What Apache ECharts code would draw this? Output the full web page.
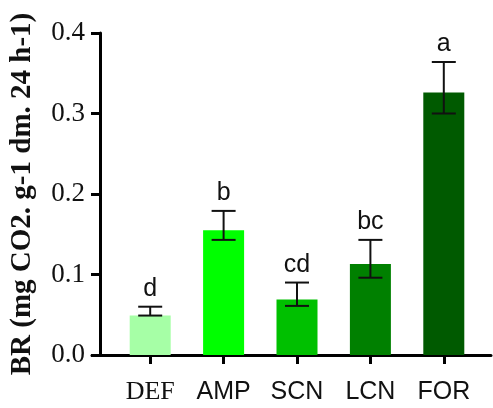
<!DOCTYPE html>
<html><head><meta charset="utf-8">
<script src="https://cdn.jsdelivr.net/npm/echarts@6/dist/echarts.min.js"></script>
<style>html,body{margin:0;padding:0;background:#fff;}#c{width:493px;height:408px;}</style>
</head><body><div id="c"></div>
<script>
const categories = ['DEF', 'AMP', 'SCN', 'LCN', 'FOR'];
const means = [0.049, 0.155, 0.069, 0.113, 0.326];
const errLow = [0.049, 0.143, 0.061, 0.096, 0.300];
const errHigh = [0.060, 0.179, 0.090, 0.143, 0.364];
const letters = ['d', 'b', 'cd', 'bc', 'a'];
const barColors = ['#a6ffa6', '#00ff00', '#00c000', '#008000', '#005a00'];
const yTicks = [0, 0.1, 0.2, 0.3, 0.4];

const chart = echarts.init(document.getElementById('c'));
const errData = categories.map((c, i) => [i, errLow[i], errHigh[i], letters[i]]);

chart.setOption({
  animation: false,
  grid: [
    {left: 105.5, width: 375, top: 33, bottom: 53},
    {left: 92, width: 399, top: 33, bottom: 53}
  ],
  xAxis: [
    {
      type: 'category', gridIndex: 0, data: categories,
      axisLine: {show: false},
      axisTick: {show: true, alignWithLabel: true, length: 9, lineStyle: {color: '#000', width: 3}},
      axisLabel: {
        margin: 20, color: '#111',
        formatter: v => v === 'DEF' ? '{s|' + v + '}' : '{n|' + v + '}',
        rich: {
          s: {fontFamily: 'Liberation Serif', fontSize: 26, lineHeight: 34, color: '#111'},
          n: {fontFamily: 'Liberation Sans', fontSize: 25, lineHeight: 34, color: '#111'}
        }
      }
    },
    {
      type: 'value', gridIndex: 1, min: 0, max: 1,
      axisLine: {show: true, lineStyle: {color: '#000', width: 3}},
      axisTick: {show: false}, axisLabel: {show: false}, splitLine: {show: false}
    }
  ],
  yAxis: [
    {
      type: 'value', gridIndex: 0, min: yTicks[0], max: yTicks[yTicks.length - 1], interval: 0.1,
      offset: 13.5,
      name: 'BR (mg CO2. g-1 dm. 24 h-1)', nameLocation: 'middle', nameGap: 63,
      nameTextStyle: {fontFamily: 'Liberation Serif', fontWeight: 'bold', fontSize: 29, color: '#111'},
      axisLine: {show: true, lineStyle: {color: '#000', width: 3}},
      axisTick: {show: true, length: 9, lineStyle: {color: '#000', width: 3}},
      axisLabel: {margin: 15, fontFamily: 'Liberation Serif', fontSize: 27, color: '#111',
        formatter: v => v.toFixed(1)},
      splitLine: {show: false}
    },
    {type: 'value', gridIndex: 1, show: false, min: 0, max: 1}
  ],
  series: [
    {
      type: 'bar', xAxisIndex: 0, yAxisIndex: 0, barWidth: 41,
      data: means.map((v, i) => ({value: v, itemStyle: {color: barColors[i]}}))
    },
    {
      type: 'custom', xAxisIndex: 0, yAxisIndex: 0, data: errData, z: 5,
      renderItem: (params, api) => {
        const x = api.value(0);
        const lo = api.coord([x, api.value(1)]);
        const hi = api.coord([x, api.value(2)]);
        const hw = 12;
        const st = {stroke: '#111', lineWidth: 2};
        return {type: 'group', children: [
          {type: 'line', shape: {x1: hi[0], y1: hi[1], x2: lo[0], y2: lo[1]}, style: st},
          {type: 'line', shape: {x1: hi[0] - hw, y1: hi[1], x2: hi[0] + hw, y2: hi[1]}, style: st},
          {type: 'line', shape: {x1: lo[0] - hw, y1: lo[1], x2: lo[0] + hw, y2: lo[1]}, style: st},
          {type: 'text', style: {text: letters[params.dataIndex], x: hi[0], y: hi[1] - 5,
            textAlign: 'center', textVerticalAlign: 'bottom',
            fontFamily: 'Liberation Sans', fontSize: 25, fill: '#111'}}
        ]};
      }
    }
  ]
});
</script></body></html>
